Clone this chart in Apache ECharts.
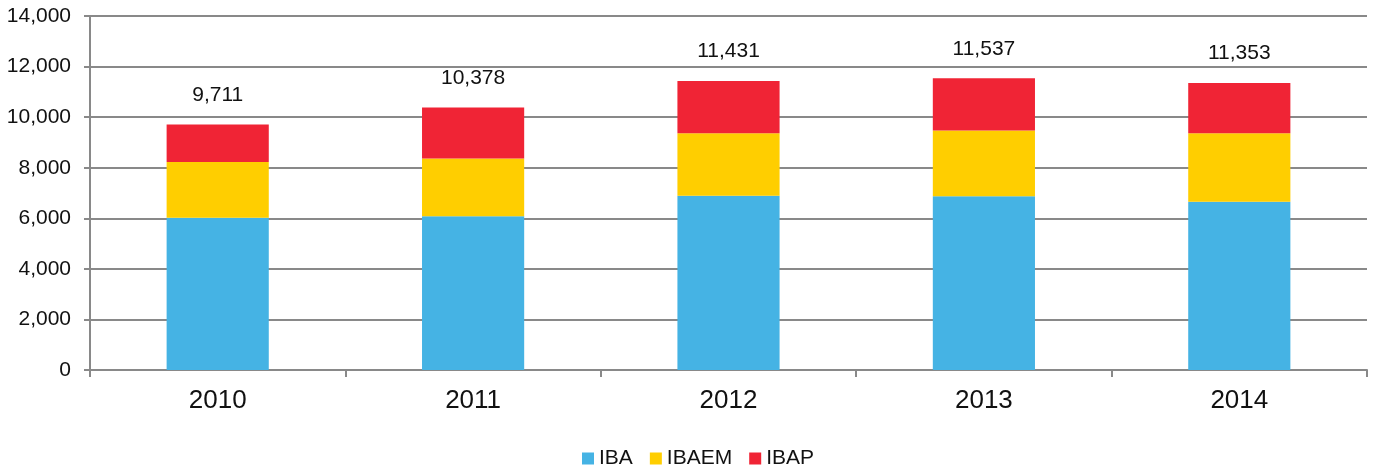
<!DOCTYPE html>
<html>
<head>
<meta charset="utf-8">
<script src="https://cdn.jsdelivr.net/npm/echarts@6/dist/echarts.min.js"></script>
<style>html,body{margin:0;padding:0;background:#fff;}#c{width:1373px;height:467px;}</style>
</head>
<body>
<div id="c"></div>
<script>
const categories = ['2010', '2011', '2012', '2013', '2014'];
const IBA = [6020, 6085, 6890, 6875, 6650];
const IBAEM = [2210, 2280, 2475, 2595, 2715];
const IBAP = [1481, 2013, 2066, 2067, 1988];
const totals = [9711, 10378, 11431, 11537, 11353];
const yTicks = [0, 2000, 4000, 6000, 8000, 10000, 12000, 14000];

const font = '"Liberation Sans", Arial, sans-serif';
const chart = echarts.init(document.getElementById('c'));
chart.setOption({
  animation: false,
  textStyle: { fontFamily: font },
  grid: { left: 90, right: 6, top: 16, bottom: 97 },
  legend: {
    top: 443, left: 577,
    itemWidth: 12, itemHeight: 12, itemGap: 17,
    icon: 'rect',
    textStyle: { fontSize: 21, color: '#111', fontFamily: font },
    data: ['IBA', 'IBAEM', 'IBAP']
  },
  xAxis: {
    type: 'category', data: categories,
    axisLine: { lineStyle: { color: '#898989', width: 2 } },
    axisTick: { show: true, length: 7, lineStyle: { color: '#898989', width: 2 } },
    axisLabel: { fontSize: 26, color: '#111', margin: 18, fontFamily: font }
  },
  yAxis: {
    type: 'value', min: yTicks[0], max: yTicks[yTicks.length - 1], interval: 2000,
    axisLine: { show: true, lineStyle: { color: '#898989', width: 2 } },
    axisTick: { show: true, length: 6, lineStyle: { color: '#898989', width: 2 } },
    splitLine: { lineStyle: { color: '#898989', width: 2 } },
    axisLabel: {
      fontSize: 21, color: '#111', margin: 19, fontFamily: font,
      formatter: v => v.toLocaleString('en-US')
    }
  },
  series: [
    { name: 'IBA', type: 'bar', stack: 's', data: IBA, barWidth: '40%', itemStyle: { color: '#45B3E4' } },
    { name: 'IBAEM', type: 'bar', stack: 's', data: IBAEM, itemStyle: { color: '#FFCE00' } },
    { name: 'IBAP', type: 'bar', stack: 's', data: IBAP, itemStyle: { color: '#F02435' },
      label: {
        show: true, position: 'top', distance: 19, fontSize: 21, color: '#111', fontFamily: font,
        formatter: p => totals[p.dataIndex].toLocaleString('en-US')
      }
    }
  ]
});
</script>
</body>
</html>
